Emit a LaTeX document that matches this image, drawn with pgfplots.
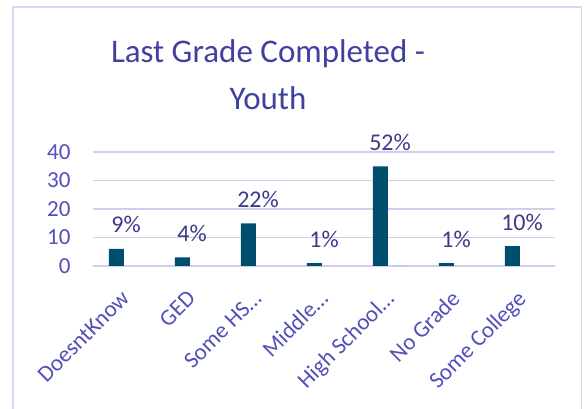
\documentclass[border=0pt]{standalone}
\usepackage{fontspec}
\setmainfont{Carlito}
\usepackage{pgfplots}
\pgfplotsset{compat=1.18}
\definecolor{titlecol}{HTML}{4040A0}
\definecolor{tickcol}{HTML}{5050B8}
\definecolor{labcol}{HTML}{3C3A8A}
\definecolor{barcol}{HTML}{004E6E}
\definecolor{barlight}{HTML}{A9D2E8}
\definecolor{gridcol}{HTML}{D0CDEE}
\definecolor{framecol}{HTML}{D6D6F0}

\begin{document}
\begin{tikzpicture}[x=1pt,y=1pt]
\begin{axis}[
  name=ax,
  scale only axis, width=462pt, height=114pt,
  xmin=-0.5, xmax=6.5, ymin=0, ymax=40,
  ytick={0,10,20,30,40},
  xtick={0,...,6},
  xticklabels={DoesntKnow,GED,Some HS\ldots,Middle\ldots,High School\ldots,No Grade,Some College},
  xticklabel style={xshift=-6pt, yshift=-23pt, rotate=45, anchor=north east,
    font=\fontsize{23}{26}\selectfont, text=tickcol, inner sep=0pt},
  yticklabel style={font=\fontsize{23}{26}\selectfont, text=tickcol, xshift=-19pt},
  /pgf/number format/assume math mode=true,
  major tick length=0pt,
  axis line style={draw=none},
  ymajorgrids, grid style={gridcol, line width=1.5pt},
  clip=false,
]
\addplot[ybar, bar width=15pt, bar shift=-9.5pt, fill=barcol, draw=none,
  point meta=explicit symbolic, nodes near coords,
  every node near coord/.append style={anchor=center, yshift=24pt, text=labcol,
    font=\fontsize{24}{28}\selectfont}]
  coordinates {
  (0,6) [9\%]
  (1,3) [4\%]
  (2,15) [22\%]
  (3,1) [1\%]
  (4,35) [52\%]
  (5,1) [1\%]
  (6,7) [10\%]
};
\addplot[ybar, bar width=15pt, bar shift=9.5pt, fill=barlight, draw=none]
  coordinates {(4,0.4)};
\end{axis}
\begin{scope}[shift={(ax.south west)}, shift={(-93,-143)}]
\pgfresetboundingbox
\useasboundingbox (0,0) rectangle (584,409);
% chart frame (bottom edge lies below the crop)
\draw[framecol, line width=1.2pt] (13,-5) -- (13,402) -- (581.5,402) -- (581.5,-5);
% title
\node[titlecol, font=\fontsize{33}{40}\selectfont, anchor=base]
  at (268,346) {Last Grade Completed -};
\node[titlecol, font=\fontsize{33}{40}\selectfont, anchor=base] at (268,299) {Youth};
\end{scope}
\end{tikzpicture}
\end{document}
